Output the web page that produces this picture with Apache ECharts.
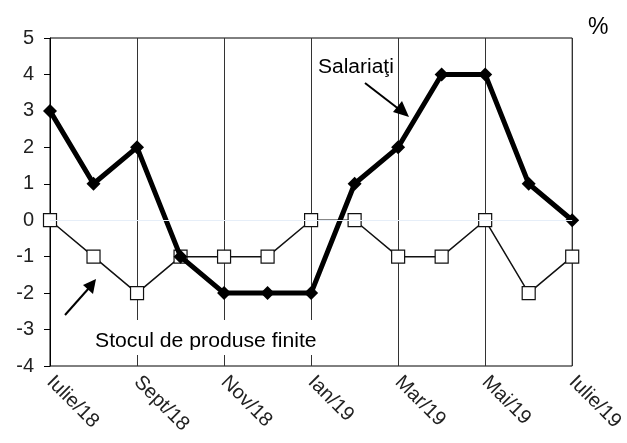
<!DOCTYPE html>
<html>
<head>
<meta charset="utf-8">
<script src="https://cdn.jsdelivr.net/npm/echarts@6/dist/echarts.min.js"></script>
<style>
html,body{margin:0;padding:0;background:#fff;}
#chart{width:627px;height:443px;}
</style>
</head>
<body>
<div id="chart"></div>
<script>
// luni
var months = ['Iulie/18','Aug/18','Sept/18','Oct/18','Nov/18','Dec/18','Ian/19','Feb/19','Mar/19','Apr/19','Mai/19','Iun/19','Iulie/19'];
// Salariati (sold conjunctural, %)
var salariati = [3, 1, 2, -1, -2, -2, -2, 1, 2, 4, 4, 1, 0];
// Stocul de produse finite
var stocul = [0, -1, -2, -1, -1, -1, 0, 0, -1, -1, 0, -2, -1];

var chart = echarts.init(document.getElementById('chart'));
var fnt = 'Liberation Sans, Arial, sans-serif';

var option = {
	animation: false,
	grid: {left: 50, right: 54, top: 38, bottom: 77, show: true, borderColor: '#000', borderWidth: 1},
	xAxis: {
		type: 'category',
		data: months,
		boundaryGap: false,
		axisLine: {lineStyle: {color: '#000', width: 1}},
		axisTick: {show: false},
		splitLine: {show: true, interval: 1, lineStyle: {color: '#333', width: 1}},
		axisLabel: {interval: 1, rotate: -45, margin: 13, fontSize: 20, color: '#222', fontFamily: fnt}
	},
	yAxis: {
		type: 'value',
		min: -4, max: 5, interval: 1,
		axisLine: {show: true, lineStyle: {color: '#000', width: 1}},
		axisTick: {show: true, length: 6, lineStyle: {color: '#000'}},
		splitLine: {show: false},
		axisLabel: {fontSize: 20, color: '#222', margin: 16, fontFamily: fnt}
	},
	series: [
		{
			name: 'Stocul de produse finite',
			type: 'line',
			data: stocul,
			symbol: 'rect',
			symbolSize: 13,
			z: 3,
			lineStyle: {color: '#111', width: 1.5},
			itemStyle: {color: '#fff', borderColor: '#111', borderWidth: 1.2},
			markLine: {
				silent: true, symbol: 'none', label: {show: false},
				lineStyle: {color: '#e6eef8', width: 1, type: 'solid'},
				data: [{yAxis: 0}]
			}
		},
		{
			name: 'Salariaţi',
			type: 'line',
			data: salariati,
			symbol: 'diamond',
			symbolSize: 14,
			z: 4,
			lineStyle: {color: '#000', width: 5},
			itemStyle: {color: '#000'}
		}
	],
	graphic: [
		{type: 'text', left: 588, top: 16, style: {text: '%', font: '23px ' + fnt, fill: '#000'}},
		{type: 'rect', shape: {x: 316, y: 55, width: 82, height: 28}, style: {fill: '#fff'}, z: 1},
		{type: 'text', left: 318, top: 57, z: 2, scaleX: 1.05, style: {text: 'Salariaţi', font: '20px ' + fnt, fill: '#000'}},
		{type: 'line', shape: {x1: 365, y1: 83, x2: 400, y2: 110}, style: {stroke: '#000', lineWidth: 2}, z: 5},
		{type: 'polygon', shape: {points: [[409, 117], [393, 112], [402, 101]]}, style: {fill: '#000'}, z: 5},
		{type: 'line', shape: {x1: 65, y1: 315, x2: 89, y2: 288}, style: {stroke: '#000', lineWidth: 2}, z: 5},
		{type: 'polygon', shape: {points: [[96, 279], [93, 294], [83, 285]]}, style: {fill: '#000'}, z: 5},
		{type: 'rect', shape: {x: 92, y: 320, width: 228, height: 31}, style: {fill: '#fff'}, z: 1},
		{type: 'text', left: 95, top: 331, z: 2, scaleX: 1.06, style: {text: 'Stocul de produse finite', font: '20px ' + fnt, fill: '#000'}},
		{type: 'rect', shape: {x: 92, y: 350, width: 228, height: 5}, style: {fill: '#fff'}, z: 3}
	]
};
chart.setOption(option);
</script>
</body>
</html>
